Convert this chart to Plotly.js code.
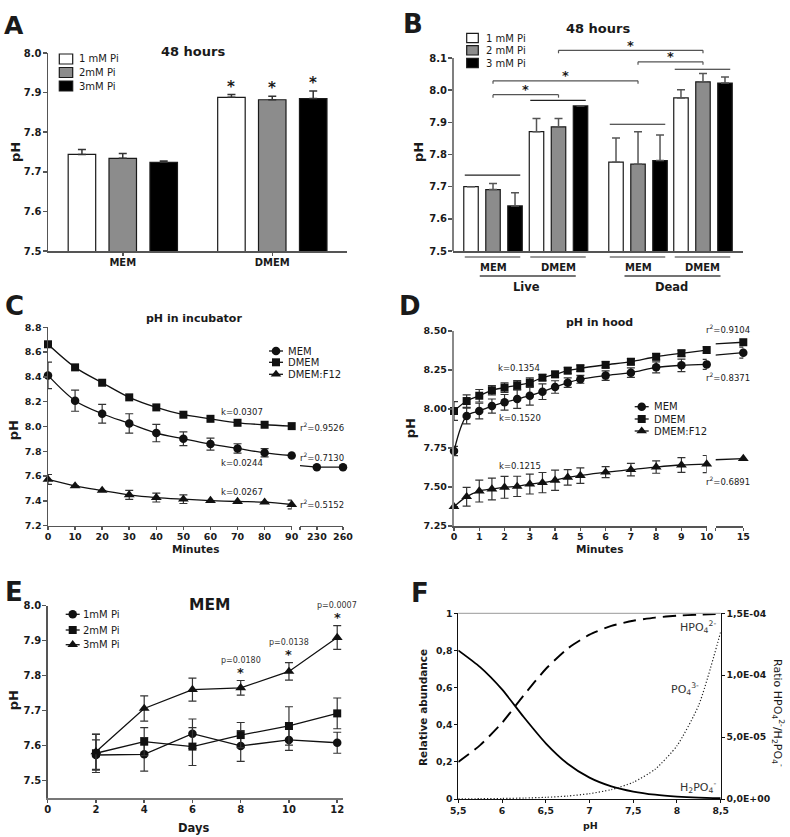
<!DOCTYPE html>
<html><head><meta charset="utf-8">
<script src="https://cdn.plot.ly/plotly-3.0.1.min.js"></script>
<style>html,body{margin:0;padding:0;background:#fff;}#chart{width:790px;height:837px;}</style>
</head><body><div id="chart"></div>
<script>
// ================= DATA =================
// Panel A - pH after 48 hours
const aMedia = ['MEM', 'DMEM'];
const aSeries = ['1 mM Pi', '2mM Pi', '3mM Pi'];
const aPi1 = [7.744, 7.888];
const aPi1Err = [0.012, 0.007];
const aPi2 = [7.734, 7.882];
const aPi2Err = [0.012, 0.009];
const aPi3 = [7.724, 7.885];
const aPi3Err = [0.003, 0.019];
const aSig = ['', '*'];

// Panel B - live vs dead, 48 hours
const bSeries = ['1 mM Pi', '2 mM Pi', '3 mM Pi'];
const bMedium = ['MEM', 'DMEM', 'MEM', 'DMEM'];
const bState = ['Live', 'Dead'];
const bPi1 = [7.700, 7.871, 7.776, 7.976];
const bPi1Err = [0, 0.041, 0.075, 0.025];
const bPi2 = [7.691, 7.886, 7.770, 8.026];
const bPi2Err = [0.019, 0.026, 0.101, 0.026];
const bPi3 = [7.640, 7.951, 7.781, 8.022];
const bPi3Err = [0.041, 0, 0.080, 0.019];

// Panel C - pH in incubator
const cSeries = ['MEM', 'DMEM', 'DMEM:F12'];
const cMinutes = [0, 10, 20, 30, 40, 50, 60, 70, 80, 90];
const cMEM = [8.412, 8.208, 8.103, 8.025, 7.947, 7.901, 7.858, 7.823, 7.788, 7.766];
const cMEMErr = [0.107, 0.085, 0.075, 0.078, 0.070, 0.056, 0.048, 0.038, 0.033, 0];
const cDMEM = [8.663, 8.477, 8.353, 8.235, 8.154, 8.095, 8.062, 8.030, 8.014, 8.003];
const cF12 = [7.573, 7.521, 7.484, 7.449, 7.427, 7.414, 7.403, 7.395, 7.390, 7.371];
const cF12Err = [0.040, 0, 0, 0.036, 0.036, 0.035, 0, 0, 0, 0.035];
const cLateMinutes = [230, 260];
const cLateMEM = [7.672, 7.672];
const cK = ['k=0.0244', 'k=0.0307', 'k=0.0267'];
const cR2 = ['r<sup>2</sup>=0.7130', 'r<sup>2</sup>=0.9526', 'r<sup>2</sup>=0.5152'];

// Panel D - pH in hood
const dMinutes = [0, 0.5, 1, 1.5, 2, 2.5, 3, 3.5, 4, 4.5, 5, 6, 7, 8, 9, 10];
const dMEM = [7.731, 7.955, 7.987, 8.019, 8.043, 8.064, 8.085, 8.111, 8.141, 8.169, 8.190, 8.214, 8.233, 8.267, 8.280, 8.286];
const dMEMErr = [0.030, 0.050, 0.050, 0.045, 0.050, 0.060, 0.060, 0.050, 0.040, 0.030, 0.025, 0.030, 0.030, 0.035, 0.040, 0.032];
const dDMEM = [7.987, 8.051, 8.085, 8.120, 8.137, 8.152, 8.169, 8.201, 8.222, 8.246, 8.261, 8.283, 8.303, 8.335, 8.357, 8.378];
const dDMEMErr = [0.060, 0.040, 0.040, 0.030, 0.030, 0.030, 0.030, 0.020, 0.020, 0.020, 0.020, 0.020, 0.020, 0.020, 0.020, 0.020];
const dF12 = [7.374, 7.438, 7.474, 7.487, 7.498, 7.504, 7.519, 7.528, 7.543, 7.562, 7.573, 7.595, 7.611, 7.628, 7.641, 7.647];
const dF12Err = [0, 0.060, 0.070, 0.070, 0.070, 0.065, 0.064, 0.065, 0.065, 0.050, 0.050, 0.035, 0.040, 0.040, 0.047, 0.055];
const dLateMinutes = [15];
const dLateMEM = [8.361];
const dLateMEMErr = [0.035];
const dLateDMEM = [8.428];
const dLateF12 = [7.682];
const dK = ['k=0.1520', 'k=0.1354', 'k=0.1215'];
const dR2 = ['r<sup>2</sup>=0.8371', 'r<sup>2</sup>=0.9104', 'r<sup>2</sup>=0.6891'];

// Panel E - MEM over days
const eSeries = ['1mM Pi', '2mM Pi', '3mM Pi'];
const eDays = [2, 4, 6, 8, 10, 12];
const e1 = [7.573, 7.575, 7.634, 7.599, 7.616, 7.608];
const e1Err = [0.043, 0.048, 0.042, 0.044, 0.030, 0.030];
const e2 = [7.578, 7.611, 7.597, 7.630, 7.656, 7.692];
const e2Err = [0.055, 0.040, 0.054, 0.036, 0.055, 0.044];
const e3 = [7.582, 7.706, 7.760, 7.765, 7.812, 7.909];
const e3Err = [0.050, 0.036, 0.033, 0.021, 0.025, 0.034];
const ePValues = ['', '', '', 'p=0.0180', 'p=0.0138', 'p=0.0007'];

// Panel F - phosphate speciation
const fPH = [5.5, 5.75, 6, 6.25, 6.5, 6.75, 7, 7.25, 7.5, 7.75, 8, 8.25, 8.5];
const fH2PO4 = [0.80, 0.71, 0.59, 0.44, 0.30, 0.19, 0.115, 0.068, 0.040, 0.023, 0.013, 0.007, 0.004];
const fHPO4 = [0.20, 0.29, 0.41, 0.56, 0.70, 0.81, 0.885, 0.932, 0.960, 0.977, 0.987, 0.993, 0.996];
const fPO4Ratio = [1.4e-7, 2.4e-7, 4.3e-7, 7.6e-7, 1.35e-6, 2.4e-6, 4.3e-6, 7.6e-6, 1.35e-5, 2.4e-5, 4.3e-5, 7.6e-5, 1.35e-4];
const fXTicks = [5.5, 6, 6.5, 7, 7.5, 8, 8.5];
const fXTickText = ['5,5', '6', '6,5', '7', '7,5', '8', '8,5'];
const fYTicks = [0, 0.2, 0.4, 0.6, 0.8, 1];
const fYTickText = ['0', '0,2', '0,4', '0,6', '0,8', '1'];
const fY2Ticks = [0, 5e-5, 1e-4, 1.5e-4];
const fY2TickText = ['0,0E+00', '5,0E-05', '1,0E-04', '1,5E-04'];

// ================= LAYOUT GEOMETRY =================
const W = 790, H = 837;
const FONT = 'DejaVu Sans, Liberation Sans, Arial, sans-serif';
const PX = x => x / W;
const PY = y => 1 - y / H;
const dom = (a, b) => [a / W, b / W];
const vdom = (t, b) => [1 - b / H, 1 - t / H];

const G = {
  A: {x0: 48, x1: 347, xr: [-0.5, 1.5], y0: 53, y1: 251, yr: [7.5, 8.0]},
  B: {x0: 453, x1: 743, xr: [-0.611, 3.817], y0: 38.7, y1: 251, yr: [7.5, 8.16]},
  C: {x0: 48, x1: 291.7, xr: [0, 90], y0: 327.3, y1: 525.7, yr: [7.2, 8.8]},
  C2: {x0: 300, x1: 343, xr: [210.7, 260]},
  D: {x0: 454, x1: 706.7, xr: [0, 10], y0: 331, y1: 526, yr: [7.25, 8.5]},
  D2: {x0: 715.7, x1: 743.3, xr: [14, 15]},
  E: {x0: 47.7, x1: 343, xr: [0, 12.24], y0: 605.7, y1: 798, yr: [7.45, 8.0]},
  F: {x0: 458.3, x1: 720.7, xr: [5.5, 8.5], y0: 613.3, y1: 799, yr: [0, 1]}
};
const gx = (g, v) => g.x0 + (v - g.xr[0]) / (g.xr[1] - g.xr[0]) * (g.x1 - g.x0);
const gy = (g, v) => g.y1 - (v - g.yr[0]) / (g.yr[1] - g.yr[0]) * (g.y1 - g.y0);

// bar placement (layout)
const aBarCenter = [-0.273, 0, 0.274], aBarWidth = 0.184;
const bGroupPos = [0, 1, 2.214, 3.206];
const bBarCenter = [-0.336, 0, 0.336], bBarWidth = 0.221;

// ================= HELPERS =================
function T(text, x, y, size, bold, extra) {
  return Object.assign({text: text, x: PX(x), y: PY(y), xref: 'paper', yref: 'paper', showarrow: false,
    xanchor: 'center', yanchor: 'middle',
    font: {family: FONT, size: size, color: '#1a1a1a', weight: bold ? 'bold' : 'normal'}}, extra || {});
}
function L(x0, y0, x1, y1, color, width, dash) {
  return {type: 'line', xref: 'paper', yref: 'paper', x0: PX(x0), y0: PY(y0), x1: PX(x1), y1: PY(y1),
    line: {color: color, width: width, dash: dash || 'solid'}};
}
function R(x0, y0, x1, y1, fill) {
  return {type: 'rect', xref: 'paper', yref: 'paper', x0: PX(x0), y0: PY(y1), x1: PX(x1), y1: PY(y0),
    fillcolor: fill, line: {color: '#1a1a1a', width: 1.2}};
}
function markerShape(kind, cx, cy) {
  if (kind === 'circle') {
    const r = 4.3;
    return {type: 'circle', xref: 'paper', yref: 'paper', x0: PX(cx - r), x1: PX(cx + r), y0: PY(cy + r), y1: PY(cy - r),
      fillcolor: '#111', line: {width: 0}};
  }
  if (kind === 'square') {
    const r = 4;
    return {type: 'rect', xref: 'paper', yref: 'paper', x0: PX(cx - r), x1: PX(cx + r), y0: PY(cy + r), y1: PY(cy - r),
      fillcolor: '#111', line: {width: 0}};
  }
  const r = 4.6, rt = r * 2 / Math.sqrt(3), r2 = r / 2;
  return {type: 'path', xref: 'paper', yref: 'paper',
    path: `M ${PX(cx - rt)},${PY(cy + r2)} L ${PX(cx + rt)},${PY(cy + r2)} L ${PX(cx)},${PY(cy - r)} Z`,
    fillcolor: '#111', line: {width: 0}};
}

const shapes = [];
const annotations = [];

function lineLegend(labels, kinds, cx, textX, ys, size) {
  labels.forEach((lab, i) => {
    shapes.push(L(cx - 7, ys[i], cx + 7, ys[i], '#111', 1.3));
    shapes.push(markerShape(kinds[i], cx, ys[i]));
    annotations.push(T(lab, textX, ys[i], size, false, {xanchor: 'left'}));
  });
}
function boxLegend(labels, fills, x0, x1, boxes, textX) {
  labels.forEach((lab, i) => {
    shapes.push(R(x0, boxes[i][0], x1, boxes[i][1], fills[i]));
    annotations.push(T(lab, textX, (boxes[i][0] + boxes[i][1]) / 2, 10, false, {xanchor: 'left'}));
  });
}

// ================= TRACES =================
const traces = [];
const fills = ['#ffffff', '#8c8c8c', '#000000'];
const zeros = a => a.map(() => 0);

function bars(x, y, err, i, xa, ya, centers, width, ecolor) {
  return {type: 'bar', x: x, y: y, xaxis: xa, yaxis: ya, width: width, offset: centers[i] - width / 2,
    marker: {color: fills[i], line: {color: '#1a1a1a', width: 1.2}},
    error_y: {type: 'data', symmetric: false, array: err, arrayminus: zeros(err), color: ecolor, thickness: 1.5, width: 4},
    showlegend: false, hoverinfo: 'skip'};
}
// A
[[aPi1, aPi1Err], [aPi2, aPi2Err], [aPi3, aPi3Err]].forEach((s, i) =>
  traces.push(bars(aMedia, s[0], s[1], i, 'x', 'y', aBarCenter, aBarWidth, '#333')));
// B
[[bPi1, bPi1Err], [bPi2, bPi2Err], [bPi3, bPi3Err]].forEach((s, i) =>
  traces.push(bars(bGroupPos, s[0], s[1], i, 'x2', 'y2', bBarCenter, bBarWidth, '#555')));

const symbols = ['circle', 'square', 'triangle-up'];
const msize = [8.5, 8, 9.5];
function series(x, y, err, i, xa, ya, shape) {
  const t = {type: 'scatter', mode: 'lines+markers', x: x, y: y, xaxis: xa, yaxis: ya,
    line: {color: '#111', width: 1.3, shape: shape, smoothing: 0.9},
    marker: {symbol: symbols[i], size: msize[i], color: '#111'},
    cliponaxis: false, showlegend: false, hoverinfo: 'skip'};
  if (err) t.error_y = {type: 'data', array: err, color: '#333', thickness: 1.2, width: 4};
  return t;
}
function bridge(x, y, xa, ya) {
  return {type: 'scatter', mode: 'lines', x: x, y: y, xaxis: xa, yaxis: ya,
    line: {color: '#111', width: 1.3}, showlegend: false, hoverinfo: 'skip'};
}
function points(x, y, err, i, xa, ya) {
  const t = {type: 'scatter', mode: 'markers', x: x, y: y, xaxis: xa, yaxis: ya,
    marker: {symbol: symbols[i], size: msize[i], color: '#111'}, cliponaxis: false, showlegend: false, hoverinfo: 'skip'};
  if (err) t.error_y = {type: 'data', array: err, color: '#333', thickness: 1.2, width: 4};
  return t;
}
// C
traces.push(series(cMinutes, cMEM, cMEMErr, 0, 'x3', 'y3', 'spline'));
traces.push(series(cMinutes, cDMEM, null, 1, 'x3', 'y3', 'spline'));
traces.push(series(cMinutes, cF12, cF12Err, 2, 'x3', 'y3', 'spline'));
traces.push(bridge([cMinutes[cMinutes.length - 1], ...cLateMinutes], [cMEM[cMEM.length - 1], ...cLateMEM], 'x4', 'y3'));
traces.push(points(cLateMinutes, cLateMEM, null, 0, 'x4', 'y3'));
// D
traces.push(series(dMinutes, dMEM, dMEMErr, 0, 'x5', 'y5', 'spline'));
traces.push(series(dMinutes, dDMEM, dDMEMErr, 1, 'x5', 'y5', 'spline'));
traces.push(series(dMinutes, dF12, dF12Err, 2, 'x5', 'y5', 'spline'));
const dl = dMinutes.length - 1;
traces.push(bridge([dMinutes[dl], ...dLateMinutes], [dMEM[dl], ...dLateMEM], 'x6', 'y5'));
traces.push(bridge([dMinutes[dl], ...dLateMinutes], [dDMEM[dl], ...dLateDMEM], 'x6', 'y5'));
traces.push(bridge([dMinutes[dl], ...dLateMinutes], [dF12[dl], ...dLateF12], 'x6', 'y5'));
traces.push(points(dLateMinutes, dLateMEM, dLateMEMErr, 0, 'x6', 'y5'));
traces.push(points(dLateMinutes, dLateDMEM, null, 1, 'x6', 'y5'));
traces.push(points(dLateMinutes, dLateF12, null, 2, 'x6', 'y5'));
// E
traces.push(series(eDays, e1, e1Err, 0, 'x7', 'y7', 'linear'));
traces.push(series(eDays, e2, e2Err, 1, 'x7', 'y7', 'linear'));
traces.push(series(eDays, e3, e3Err, 2, 'x7', 'y7', 'linear'));
// F
traces.push({type: 'scatter', mode: 'lines', x: fPH, y: fH2PO4, xaxis: 'x8', yaxis: 'y8',
  line: {color: '#000', width: 1.8, shape: 'spline', smoothing: 0.6}, showlegend: false, hoverinfo: 'skip'});
traces.push({type: 'scatter', mode: 'lines', x: fPH, y: fHPO4, xaxis: 'x8', yaxis: 'y8',
  line: {color: '#000', width: 1.9, dash: '13px,7px', shape: 'spline', smoothing: 0.6}, showlegend: false, hoverinfo: 'skip'});
traces.push({type: 'scatter', mode: 'lines', x: fPH, y: fPO4Ratio, xaxis: 'x8', yaxis: 'y9',
  line: {color: '#222', width: 1.2, dash: '1.2px,2px', shape: 'spline', smoothing: 0.6}, showlegend: false, hoverinfo: 'skip'});

// ================= DECORATION =================
// Panel A
annotations.push(T('A', 13.7, 25.8, 25, true));
annotations.push(T('48 hours', 193.3, 51.7, 13, true));
annotations.push(T('pH', 15, 152, 13, true, {textangle: -90}));
boxLegend(aSeries, fills, 59.3, 72.7, [[54, 64], [67.5, 77.5], [81, 91]], 77.3);
[[aPi1, aPi1Err], [aPi2, aPi2Err], [aPi3, aPi3Err]].forEach((s, i) => {
  aSig.forEach((sg, k) => {
    if (!sg) return;
    annotations.push(T(sg, gx(G.A, k + aBarCenter[i]), gy(G.A, s[0][k] + s[1][k]) - 8, 15, true));
  });
});

// Panel B
annotations.push(T('B', 413, 23.5, 26, true));
annotations.push(T('48 hours', 598.3, 29, 13, true));
annotations.push(T('pH', 418.3, 151.7, 13, true, {textangle: -90}));
shapes.push(L(G.B.x0, gy(G.B, 7.5), G.B.x0, gy(G.B, 8.1), '#555', 1.5));
boxLegend(bSeries, fills, 466.7, 478.3, [[33.3, 42.7], [45.7, 55], [58.3, 67.7]], 484.3);
const bBracket = [[0, 1, 1, 1, 7.986], [0, 1, 2, 1, 8.029], [1, 1, 3, 1, 8.124], [2, 1, 3, 1, 8.088]];
bBracket.forEach(b => {
  const xa = gx(G.B, bGroupPos[b[0]] + bBarCenter[b[1]]);
  const xb = gx(G.B, bGroupPos[b[2]] + bBarCenter[b[3]]);
  const yv = gy(G.B, b[4]);
  shapes.push(L(xa, yv, xb, yv, '#555', 1.2));
  shapes.push(L(xa, yv, xa, yv + 3, '#555', 1.2));
  shapes.push(L(xb, yv, xb, yv + 3, '#555', 1.2));
  annotations.push(T('*', (xa + xb) / 2, yv - 5, 13, true));
});
const bGroupLine = [7.736, 7.968, 7.894, 8.065];
bGroupPos.forEach((p, g) => {
  const xl = gx(G.B, p + bBarCenter[0] - bBarWidth / 2) + 1;
  const xr = gx(G.B, p + bBarCenter[2] + bBarWidth / 2) - 2;
  shapes.push(L(xl, gy(G.B, bGroupLine[g]), xr, gy(G.B, bGroupLine[g]), '#222', 1.2));
  shapes.push(L(xl, 257, xr, 257, '#777', 1.6));
  annotations.push(T(bMedium[g], gx(G.B, p), 267.5, 10, true));
});
bState.forEach((s, k) => {
  const c = (gx(G.B, bGroupPos[2 * k]) + gx(G.B, bGroupPos[2 * k + 1])) / 2 + 2;
  shapes.push(L(c - 48, 276, c + 48, 276, '#444', 1.3));
  annotations.push(T(s, c - 1, 286.5, 11.5, true));
});

// Panel C
annotations.push(T('C', 14, 306, 26, true));
annotations.push(T('pH in incubator', 194, 318, 11, true));
annotations.push(T('pH', 13.3, 430, 13, true, {textangle: -90}));
annotations.push(T('Minutes', 195, 549, 10.5, true));
lineLegend(cSeries, ['circle', 'square', 'triangle'], 276, 286, [351, 362.3, 374.3], 10);
annotations.push(T(cK[1], 241.7, 412.3, 8.5, false));
annotations.push(T(cR2[1], 321.7, 427.3, 8.5, false));
annotations.push(T(cR2[0], 321.7, 457, 8.5, false));
annotations.push(T(cK[0], 241.7, 462.7, 8.5, false));
annotations.push(T(cK[2], 241.7, 491.7, 8.5, false));
annotations.push(T(cR2[2], 321.7, 504, 8.5, false));

// Panel D
annotations.push(T('D', 410, 306, 26, true));
annotations.push(T('pH in hood', 599, 322.3, 11, true));
annotations.push(T('pH', 410, 428.3, 13, true, {textangle: -90}));
annotations.push(T('Minutes', 599.3, 549, 10.5, true));
lineLegend(cSeries, ['circle', 'square', 'triangle'], 641.7, 651.7, [406.7, 419, 431], 10);
annotations.push(T(dK[1], 519.3, 368.3, 8.5, false));
annotations.push(T(dK[0], 520, 418.3, 8.5, false));
annotations.push(T(dK[2], 520, 466, 8.5, false));
annotations.push(T(dR2[1], 728.3, 329, 8.5, false));
annotations.push(T(dR2[0], 728.3, 376.7, 8.5, false));
annotations.push(T(dR2[2], 728.3, 480.7, 8.5, false));

// Panel E
annotations.push(T('E', 14, 592, 26, true));
annotations.push(T('MEM', 209, 605, 15.5, true));
annotations.push(T('pH', 13.3, 700, 13, true, {textangle: -90}));
annotations.push(T('Days', 193, 828, 11.5, true));
lineLegend(eSeries, ['circle', 'square', 'triangle'], 72.7, 80.5, [614.3, 630, 644.7], 10);
ePValues.forEach((p, k) => {
  if (!p) return;
  const ys = gy(G.E, e3[k] + e3Err[k]) - 11;
  annotations.push(T('*', gx(G.E, eDays[k]), ys + 2.5, 13, true));
  annotations.push(T(p, gx(G.E, eDays[k]), ys - 9.5, 8, false, {font: {family: FONT, size: 8, color: '#333'}}));
});

// Panel F
annotations.push(T('F', 420, 593, 26, true));
annotations.push(T('Relative abundance', 423, 708, 10.5, true, {textangle: -90}));
annotations.push(T('Ratio HPO<sub>4</sub><sup>2-</sup>/H<sub>2</sub>PO<sub>4</sub><sup>-</sup>', 778, 713, 11, false, {textangle: 90}));
annotations.push(T('pH', 590, 825, 9.5, true));
annotations.push(T('HPO<sub>4</sub><sup>2-</sup>', 698, 627, 11, false, {font: {family: FONT, size: 11, color: '#333'}}));
annotations.push(T('PO<sub>4</sub><sup>3-</sup>', 685, 689, 11, false, {font: {family: FONT, size: 11, color: '#333'}}));
annotations.push(T('H<sub>2</sub>PO<sub>4</sub><sup>-</sup>', 698, 787, 11, false, {font: {family: FONT, size: 11, color: '#333'}}));
shapes.push(L(G.F.x0, G.F.y0, G.F.x1, G.F.y0, '#999', 1));

// ================= AXES =================
const tf = s => ({family: FONT, size: s, color: '#1a1a1a', weight: 'bold'});
const base = {showgrid: false, zeroline: false, showline: true, linecolor: '#555', linewidth: 1.5,
  ticks: 'outside', ticklen: 4, tickwidth: 1.5, tickcolor: '#555', tickfont: tf(10), fixedrange: true};
const ax = o => Object.assign({}, base, o);
const xs = {ticklen: 3, ticklabelstandoff: -2};
const ys = {ticklabelstandoff: -1};
const stepTicks = (a, b, s) => { const r = []; for (let v = a; v <= b + 1e-9; v += s) r.push(+v.toFixed(4)); return r; };

const layout = {
  width: W, height: H, margin: {l: 0, r: 0, t: 0, b: 0},
  paper_bgcolor: '#fff', plot_bgcolor: 'rgba(0,0,0,0)', showlegend: false, hovermode: false,
  barmode: 'overlay', font: {family: FONT},
  xaxis: ax(Object.assign({domain: dom(G.A.x0, G.A.x1), range: G.A.xr, anchor: 'y', type: 'category'}, xs)),
  yaxis: ax(Object.assign({domain: vdom(G.A.y0, G.A.y1), range: G.A.yr, anchor: 'x', tickvals: stepTicks(7.5, 8.0, 0.1), tickformat: '.1f'}, ys)),
  xaxis2: ax({domain: dom(G.B.x0, G.B.x1), range: G.B.xr, anchor: 'y2', showticklabels: false, ticks: ''}),
  yaxis2: ax(Object.assign({domain: vdom(G.B.y0, G.B.y1), range: G.B.yr, anchor: 'x2', showline: false, tickvals: stepTicks(7.5, 8.1, 0.1), tickformat: '.1f'}, ys)),
  xaxis3: ax(Object.assign({domain: dom(G.C.x0, G.C.x1), range: G.C.xr, anchor: 'y3', tickvals: cMinutes, tickfont: tf(9.5)}, xs)),
  xaxis4: ax(Object.assign({domain: dom(G.C2.x0, G.C2.x1), range: G.C2.xr, anchor: 'y3', tickvals: [G.C2.xr[0], ...cLateMinutes], ticktext: [' ', ...cLateMinutes.map(String)], tickfont: tf(9.5)}, xs)),
  yaxis3: ax(Object.assign({domain: vdom(G.C.y0, G.C.y1), range: G.C.yr, anchor: 'x3', tickvals: stepTicks(7.2, 8.8, 0.2), tickformat: '.1f', tickfont: tf(9.5)}, ys)),
  xaxis5: ax(Object.assign({domain: dom(G.D.x0, G.D.x1), range: G.D.xr, anchor: 'y5', tickvals: stepTicks(0, 10, 1), tickfont: tf(9.5)}, xs)),
  xaxis6: ax(Object.assign({domain: dom(G.D2.x0, G.D2.x1), range: G.D2.xr, anchor: 'y5', tickvals: [G.D2.xr[0], ...dLateMinutes], ticktext: [' ', ...dLateMinutes.map(String)], tickfont: tf(9.5)}, xs)),
  yaxis5: ax(Object.assign({domain: vdom(G.D.y0, G.D.y1), range: G.D.yr, anchor: 'x5', tickvals: stepTicks(7.25, 8.5, 0.25), tickformat: '.2f', tickfont: tf(9.5), linecolor: '#8a8a8a', linewidth: 2.2}, ys)),
  xaxis7: ax(Object.assign({domain: dom(G.E.x0, G.E.x1), range: G.E.xr, anchor: 'y7', tickvals: stepTicks(0, 12, 2), tickfont: tf(10), linecolor: '#777'}, xs)),
  yaxis7: ax(Object.assign({domain: vdom(G.E.y0, G.E.y1), range: G.E.yr, anchor: 'x7', tickvals: stepTicks(7.5, 8.0, 0.1), tickformat: '.1f', tickfont: tf(10)}, ys)),
  xaxis8: ax({domain: dom(G.F.x0, G.F.x1), range: G.F.xr, anchor: 'y8', tickvals: fXTicks, ticktext: fXTickText, tickfont: tf(9.3), linecolor: '#111', linewidth: 1, tickcolor: '#111', tickwidth: 1, ticklen: 3}),
  yaxis8: ax({domain: vdom(G.F.y0, G.F.y1), range: G.F.yr, anchor: 'x8', tickvals: fYTicks, ticktext: fYTickText, tickfont: tf(9.3), linecolor: '#111', linewidth: 1, tickcolor: '#111', tickwidth: 1, ticklen: 3}),
  yaxis9: ax({overlaying: 'y8', side: 'right', anchor: 'x8', range: [0, 1.5e-4], tickvals: fY2Ticks, ticktext: fY2TickText, tickfont: tf(9.3), linecolor: '#111', linewidth: 1, tickcolor: '#111', tickwidth: 1, ticklen: 3}),
  shapes: shapes,
  annotations: annotations
};

Plotly.newPlot('chart', traces, layout, {displayModeBar: false, staticPlot: true});
</script>
</body></html>
